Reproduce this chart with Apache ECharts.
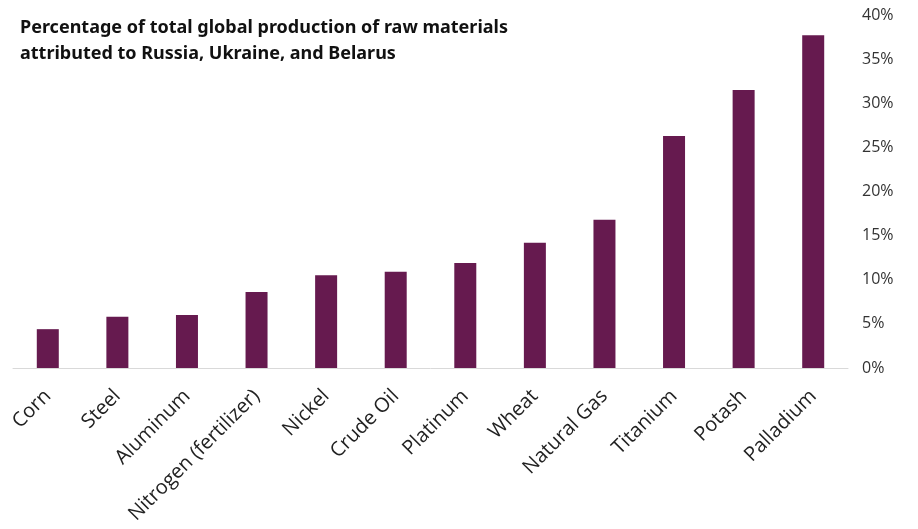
<!DOCTYPE html>
<html>
<head>
<meta charset="utf-8">
<script src="https://cdn.jsdelivr.net/npm/echarts@6/dist/echarts.min.js"></script>
<style>html,body{margin:0;padding:0;background:#fff;}#c{width:918px;height:529px;}</style>
</head>
<body>
<div id="c"></div>
<script>
const categories = ["Corn","Steel","Aluminum","Nitrogen (fertilizer)","Nickel","Crude Oil","Platinum","Wheat","Natural Gas","Titanium","Potash","Palladium"];
const shares = [4.4,5.8,6.0,8.6,10.5,10.9,11.9,14.2,16.8,26.3,31.5,37.7];
const titleLines = ["Percentage of total global production of raw materials","attributed to Russia, Ukraine, and Belarus"];

const chart = echarts.init(document.getElementById('c'));
chart.setOption({
  animation:false,
  backgroundColor:'#fff',
  title:{
    text: titleLines.join('\n'),
    left:15, top:10,
    textStyle:{fontFamily:'Noto Sans',fontWeight:'bold',fontSize:18,color:'#111',lineHeight:26}
  },
  grid:{left:13,right:70,top:15,bottom:161},
  xAxis:{
    type:'category',
    data:categories,
    axisLine:{lineStyle:{color:'#d9d9d9',width:1}},
    axisTick:{show:false},
    axisLabel:{rotate:45,interval:0,margin:25,fontFamily:'Open Sans',fontSize:20,color:'#222'}
  },
  yAxis:{
    type:'value',
    position:'right',
    min:0,max:40,interval:5,
    axisLine:{show:false},
    axisTick:{show:false},
    splitLine:{show:false},
    axisLabel:{formatter:'{value}%',margin:14,fontFamily:'Open Sans',fontSize:16,color:'#333'}
  },
  series:[{
    type:'bar',
    data:shares,
    barWidth:22,
    itemStyle:{color:'#661a4f'}
  }]
});
</script>
</body>
</html>
